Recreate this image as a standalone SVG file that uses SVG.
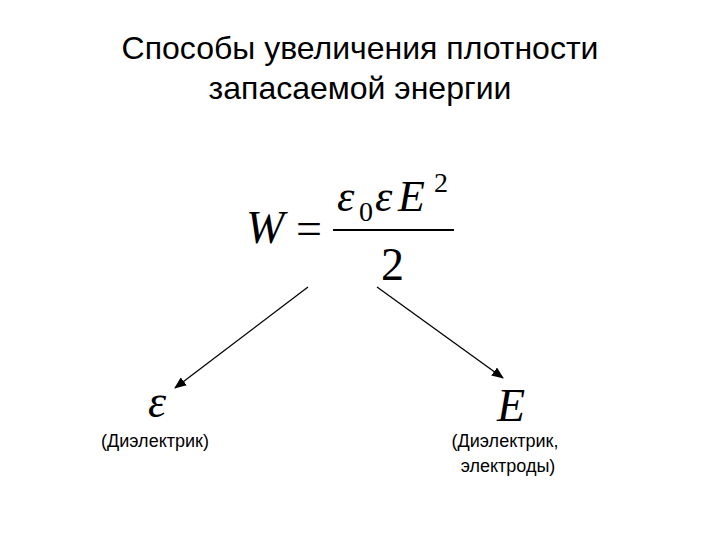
<svg xmlns="http://www.w3.org/2000/svg" width="720" height="540" viewBox="0 0 720 540">
<style>
.t{font-family:"Liberation Sans",Arial,sans-serif;fill:#000}
.m{font-family:"Liberation Serif","Times New Roman",serif;fill:#000}
.c{stroke:#000;stroke-width:1.3;fill:none}
</style>
<defs><marker id="a" markerWidth="12" markerHeight="10" refX="11" refY="5" orient="auto" markerUnits="userSpaceOnUse"><path d="M0,0 L12,5 L0,10 Z" fill="#000"/></marker></defs>
<rect width="720" height="540" fill="#fff"/>
<g id="title"><text class="t" x="360" y="59" font-size="32" text-anchor="middle">Способы увеличения плотности</text><text class="t" x="360" y="99" font-size="32" text-anchor="middle">запасаемой энергии</text></g>
<g id="formula">
<text class="m" x="246" y="243" font-size="46" font-style="italic">W</text>
<text class="m" x="296" y="244" font-size="46">=</text>
<line x1="333" y1="230" x2="454" y2="230" stroke="#000" stroke-width="1.8"/>
<text class="m" x="337" y="211" font-size="44" font-style="italic">ε</text>
<text class="m" x="359" y="221" font-size="28">0</text>
<text class="m" x="375" y="211" font-size="44" font-style="italic">ε</text>
<text class="m" x="398" y="211" font-size="44" font-style="italic">E</text>
<text class="m" x="434" y="192" font-size="28">2</text>
<text class="m" x="381" y="280" font-size="46">2</text>
</g>
<g id="connectors">
<line class="c" x1="308" y1="287" x2="175" y2="388" marker-end="url(#a)"/>
<line class="c" x1="377" y1="287" x2="503" y2="378" marker-end="url(#a)"/>
</g>
<g id="eps"><text class="m" x="148" y="417" font-size="46" font-style="italic">ε</text><text class="t" x="155" y="447" font-size="18" text-anchor="middle">(Диэлектрик)</text></g>
<g id="E"><text class="m" x="497" y="421" font-size="46" font-style="italic">E</text><text class="t" x="505" y="447" font-size="18" text-anchor="middle">(Диэлектрик,</text><text class="t" x="508" y="472" font-size="18" text-anchor="middle">электроды)</text></g>
</svg>
